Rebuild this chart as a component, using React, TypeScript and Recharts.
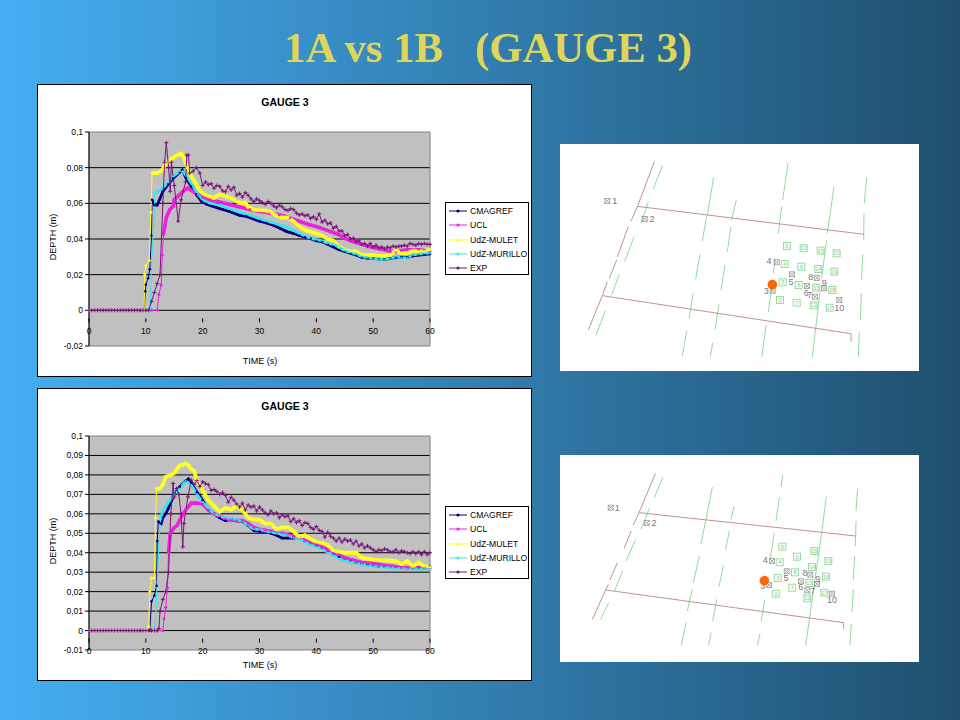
import { CartesianGrid, Legend, Line, LineChart, ReferenceArea, XAxis, YAxis } from "recharts"

type Pt = number[]

// ---- hydrograph values: [time, depth]
const cmagref1A: Pt[] = [[0,0],[5,0],[9.7,0],[9.9,.0107],[10,.0144],[10.4,.018],[10.7,.023],[11,.042],[11.1,.062],[11.5,.059],[12,.059],[12.4,.062],[13,.0667],[13.9,.0705],[14.8,.074],[16,.0776],[16.4,.0787],[17.1,.074],[18,.0695],[18.9,.065],[19.8,.061],[20.6,.0596],[21.8,.0583],[23,.057],[24.7,.0555],[26.5,.0533],[27.7,.0527],[28.9,.0512],[30,.05],[31.2,.049],[32.4,.0477],[33.6,.046],[34.7,.0443],[35.9,.0432],[37,.042],[38,.041],[39,.0402],[40,.039],[41,.0385],[42,.037],[43,.0355],[44,.034],[45,.033],[46,.032],[47,.031],[48,.0297],[49,.0293],[50,.029],[51,.0288],[52,.0286],[53,.029],[54,.0297],[55,.0298],[56,.0297],[57,.0305],[58,.031],[59,.0312],[60,.0316]]
const ucl1A: Pt[] = [[0,0],[5,0],[9,0],[10,0],[11,0],[12,0],[12.3,.009],[12.7,.0144],[12.9,.031],[13.1,.0424],[13.6,.052],[14.2,.0564],[14.8,.0583],[15,.062],[16,.065],[17,.068],[17.4,.0686],[18.3,.0667],[19.2,.065],[20,.0634],[21.2,.062],[23,.0607],[24.7,.0593],[26.5,.058],[28.3,.0565],[30,.0555],[31.8,.0546],[33.5,.0536],[35.3,.0518],[37,.05],[38.8,.048],[40,.047],[41.8,.045],[44,.0424],[45,.0405],[46,.039],[47,.038],[48,.037],[49,.036],[50,.0353],[51,.0346],[52,.034],[53,.033],[54,.033],[55,.0335],[56,.034],[57,.034],[58,.034],[59,.0335],[60,.033]]
const mulet1A: Pt[] = [[0,0],[5,0],[9.7,0],[9.8,.02],[10,.025],[10.6,.028],[10.9,.055],[11.1,.077],[12,.077],[12.7,.078],[13.5,.082],[14.5,.085],[15.5,.087],[16.2,.088],[16.8,.085],[17.3,.08],[18,.075],[18.8,.071],[19.5,.067],[20.3,.065],[21,.064],[22,.063],[23,.065],[24,.064],[25,.063],[26,.061],[27,.06],[27.5,.0605],[28,.058],[29,.0565],[30,.056],[31,.056],[32,.055],[33,.053],[34,.052],[35,.052],[36,.05],[37,.047],[38,.045],[39,.044],[40,.043],[41,.042],[42,.04],[43,.039],[44,.0355],[45,.034],[46,.033],[47,.033],[48,.031],[49,.031],[50,.031],[51,.0305],[52,.0305],[53,.031],[54,.0335],[55,.032],[56,.032],[57,.0335],[58,.033],[59,.033],[60,.034]]
const murillo1A: Pt[] = [[0,0],[5,0],[10.8,0],[11,.0275],[11.3,.0424],[11.6,.0658],[12.4,.067],[13.6,.0705],[14.8,.075],[16,.078],[16.5,.078],[17.4,.074],[18.3,.0695],[19.2,.065],[20,.062],[21.2,.06],[23,.0589],[24.7,.057],[26.5,.055],[28.3,.0533],[30,.0514],[31.8,.0495],[33.5,.048],[35.3,.046],[37,.043],[38.8,.0406],[40,.0396],[41,.039],[42,.0375],[43,.037],[44,.0355],[45,.0335],[46,.0325],[47,.0315],[48,.03],[49,.0295],[50,.029],[51,.0287],[52,.0285],[53,.029],[54,.03],[55,.0295],[56,.0295],[57,.031],[58,.0315],[59,.032],[60,.032]]
const exp1A: Pt[] = [[0,0],[.5,0],[1,0],[1.5,0],[2,0],[2.5,0],[3,0],[3.5,0],[4,0],[4.5,0],[5,0],[5.5,0],[6,0],[6.5,0],[7,0],[7.5,0],[8,0],[8.5,0],[9,0],[9.5,0],[10,0],[10.5,0],[11,.005],[11.5,.01],[12,.015],[12.5,.02],[13,.06],[13.3,.083],[13.6,.094],[14,.08],[14.3,.0667],[14.5,.083],[15,.07],[15.7,.05],[16.2,.062],[17,.072],[17.2,.087],[17.5,.087],[17.7,.077],[18.3,.078],[18.9,.08],[19.5,.077],[20,.07],[20.5,.072],[21,.0705],[21.5,.071],[22,.0685],[22.5,.07],[23,.0695],[23.5,.067],[24,.0665],[24.5,.0695],[25,.0675],[25.5,.069],[26,.0645],[26.5,.0655],[27,.0635],[27.5,.066],[28,.0645],[28.5,.0625],[29,.061],[29.5,.0625],[30,.0615],[30.5,.0605],[31,.0595],[31.5,.061],[32,.06],[32.5,.0585],[33,.0575],[33.5,.059],[34,.058],[34.5,.0565],[35,.056],[35.5,.057],[36,.0565],[36.5,.0545],[37,.0535],[37.5,.054],[38,.053],[38.5,.0535],[39,.0515],[39.5,.0525],[40,.051],[40.5,.054],[41,.0495],[41.5,.0505],[42,.0485],[42.5,.049],[43,.046],[43.5,.047],[44,.0445],[44.5,.0445],[45,.042],[45.5,.0425],[46,.04],[46.5,.0405],[47,.0385],[47.5,.039],[48,.037],[48.5,.0375],[49,.036],[49.5,.0375],[50,.0355],[50.5,.0365],[51,.035],[51.5,.0355],[52,.0345],[52.5,.0355],[53,.035],[53.5,.036],[54,.0355],[54.5,.036],[55,.036],[55.5,.0365],[56,.036],[56.5,.0375],[57,.037],[57.5,.0365],[58,.0375],[58.5,.037],[59,.0375],[59.5,.037],[60,.037]]

const cmagref1B: Pt[] = [[0,0],[5,0],[10.7,0],[11,.015],[11.5,.018],[11.9,.023],[12,.046],[12.2,.056],[12.7,.055],[13,.058],[13.5,.06],[14,.063],[15,.07],[16,.074],[17,.077],[17.5,.078],[18,.076],[19,.071],[20,.067],[21,.062],[22,.06],[23,.058],[24,.0565],[25,.057],[26,.0565],[27,.056],[28,.054],[29,.0515],[30,.051],[31,.051],[32,.05],[33,.049],[34,.0475],[35,.0475],[36,.0475],[37,.0475],[38,.046],[39,.045],[40,.0438],[41,.0425],[42,.041],[43,.0395],[44,.038],[45,.037],[46,.036],[47,.035],[48,.0345],[49,.034],[50,.0335],[51,.033],[52,.033],[53,.0327],[54,.0325],[55,.0322],[56,.032],[57,.032],[58,.0322],[59,.0325],[60,.033]]
const ucl1B: Pt[] = [[0,0],[5,0],[9,0],[10,0],[11,0],[12,0],[13,0],[13.2,.006],[13.5,.012],[13.8,.022],[14,.04],[14.3,.05],[15,.053],[15.5,.054],[16,.057],[17,.062],[18,.0655],[19,.0655],[20,.065],[21,.062],[22,.06],[23,.059],[24,.0575],[25,.057],[26,.0565],[27,.0565],[28,.055],[29,.053],[30,.052],[31,.0515],[32,.051],[33,.05],[34,.05],[35,.049],[36,.0485],[37,.048],[38,.046],[39,.045],[40,.0443],[41,.043],[42,.0415],[43,.04],[44,.039],[45,.0374],[46,.0365],[47,.0357],[48,.035],[49,.0347],[50,.0344],[51,.034],[52,.0335],[53,.0332],[54,.0328],[55,.0325],[56,.0323],[57,.0322],[58,.0322],[59,.032],[60,.032]]
const mulet1B: Pt[] = [[0,0],[5,0],[10,0],[10.5,.002],[10.7,.02],[11,.027],[11.5,.027],[11.7,.058],[11.9,.073],[12.5,.073],[13,.075],[13.5,.079],[14.5,.08],[15,.081],[15.5,.083],[16,.085],[16.5,.085],[17,.086],[17.5,.085],[18,.083],[18.5,.082],[19,.077],[20,.072],[21,.067],[22,.064],[23,.061],[24,.063],[25,.062],[26,.064],[27,.062],[28,.058],[29,.057],[30,.057],[31,.055],[32,.055],[33,.052],[34,.053],[35,.053],[36,.051],[37,.048],[38,.049],[39,.047],[40,.0455],[41,.045],[42,.044],[43,.041],[44,.0405],[45,.04],[46,.04],[47,.04],[48,.0375],[49,.037],[50,.0365],[51,.0362],[52,.036],[53,.036],[54,.0357],[55,.034],[56,.0357],[57,.033],[58,.035],[59,.033],[60,.0327]]
const murillo1B: Pt[] = [[0,0],[5,0],[11.5,0],[11.7,.005],[12,.025],[12.3,.045],[12.6,.057],[13,.062],[14,.066],[15,.07],[16,.073],[17,.077],[18,.075],[19,.07],[20,.066],[21,.063],[22,.06],[23,.059],[24,.058],[25,.0575],[26,.057],[27,.056],[28,.054],[29,.052],[30,.052],[31,.051],[32,.0505],[33,.05],[34,.0495],[35,.049],[36,.0475],[37,.047],[38,.0455],[39,.044],[40,.043],[41,.0418],[42,.0402],[43,.0386],[44,.037],[45,.036],[46,.0352],[47,.0347],[48,.034],[49,.0335],[50,.0332],[51,.0328],[52,.0325],[53,.0323],[54,.032],[55,.0319],[56,.0318],[57,.0317],[58,.0316],[59,.0316],[60,.0315]]
const exp1B: Pt[] = [[0,0],[.5,0],[1,0],[1.5,0],[2,0],[2.5,0],[3,0],[3.5,0],[4,0],[4.5,0],[5,0],[5.5,0],[6,0],[6.5,0],[7,0],[7.5,0],[8,0],[8.5,0],[9,0],[9.5,0],[10,0],[10.5,0],[11,0],[11.5,0],[12,0],[12.3,.001],[12.5,.01],[13,.016],[13.5,.02],[14,.03],[14.4,.06],[14.8,.0756],[15,.0687],[15.4,.073],[15.8,.07],[16.2,.06],[16.5,.043],[16.7,.055],[17.4,.0687],[18,.0773],[18.5,.075],[19,.077],[19.5,.074],[20,.0765],[20.5,.0755],[21,.075],[21.5,.072],[22,.0725],[22.5,.0715],[23,.07],[23.5,.071],[24,.0695],[24.5,.066],[25,.0685],[25.5,.067],[26,.065],[26.5,.0635],[27,.0655],[27.5,.062],[28,.0645],[28.5,.0635],[29,.064],[29.5,.0615],[30,.0635],[30.5,.062],[31,.0605],[31.5,.0595],[32,.0615],[32.5,.06],[33,.0605],[33.5,.058],[34,.0595],[34.5,.0585],[35,.059],[35.5,.056],[36,.0575],[36.5,.0555],[37,.0565],[37.5,.054],[38,.0555],[38.5,.055],[39,.053],[39.5,.052],[40,.0535],[40.5,.0515],[41,.051],[41.5,.048],[42,.0505],[42.5,.0485],[43,.0475],[43.5,.046],[44,.0475],[44.5,.0455],[45,.047],[45.5,.046],[46,.0465],[46.5,.0445],[47,.046],[47.5,.0435],[48,.0445],[48.5,.0425],[49,.0435],[49.5,.0425],[50,.0415],[50.5,.0405],[51,.0415],[51.5,.041],[52,.042],[52.5,.0415],[53,.0405],[53.5,.0405],[54,.0415],[54.5,.04],[55,.041],[55.5,.0405],[56,.04],[56.5,.0395],[57,.0405],[57.5,.0395],[58,.0405],[58.5,.039],[59,.0405],[59.5,.039],[60,.04]]

const seriesNames = ["CMAGREF", "UCL", "UdZ-MULET", "UdZ-MURILLO", "EXP"]
const seriesColors = ["#000080", "#ee20dd", "#ffff20", "#30e8f0", "#7a1478"]
const seriesWidths = [2.8, 3.6, 3.8, 2.6]
const seriesDots = [1.3, 1.5, 1.5, 0.9]

const timeTicks = [0, 10, 20, 30, 40, 50, 60]
const depthTicks1A = [-0.02, 0, 0.02, 0.04, 0.06, 0.08, 0.1]
const depthTicks1B = [-0.01, 0, 0.01, 0.02, 0.03, 0.04, 0.05, 0.06, 0.07, 0.08, 0.09, 0.1]
const runs1A = [cmagref1A, ucl1A, mulet1A, murillo1A, exp1A]
const runs1B = [cmagref1B, ucl1B, mulet1B, murillo1B, exp1B]
const bandFrom1A = [11.1, 13.1, 11.1, 11.6]
const bandFrom1B = [12.2, 14, 11.9, 12.6]

// ---- experiment layout sketches, in units of a third of a pixel
const walls1A = [[[283,50],[232,185],[213,228]],[[205,245],[172,335]],[[170,345],[148,400]],[[142,410],[127,452],[85,555]],[[232,184],[912,268]],[[127,452],[873,566],[873,590]]]
const dashes1A = [[[307,62],[280,132]],[[265,170],[243,235]],[[222,275],[194,350]],[[178,388],[155,450]],[[136,497],[108,570]],[[461,97],[442,210]],[[440,215],[427,288]],[[420,328],[407,403]],[[400,445],[387,520]],[[380,558],[367,633]],[[529,165],[515,225]],[[513,245],[502,320]],[[495,360],[483,435]],[[477,478],[465,553]],[[458,593],[451,635]],[[684,55],[668,165]],[[665,185],[655,265]],[[645,340],[640,385]],[[635,430],[625,500]],[[618,540],[606,635]],[[822,125],[802,265]],[[800,285],[785,400]],[[780,440],[757,635]],[[920,98],[913,175]],[[912,205],[911,285]],[[908,328],[905,405]],[[904,445],[901,525]],[[898,563],[895,635]]]
const blocks1A: [number, number, string][] = [[681,303,"5"],[731,310,"10"],[782,317,"15"],[830,325,"20"],[674,357,"4"],[724,365,"9"],[775,372,"14"],[823,380,"19"],[668,412,"3"],[716,420,"8"],[769,428,"13"],[817,435,"18"],[660,465,"2"],[710,473,"7"],[761,481,"12"],[809,488,"17"]]
const gauges1A: [number, number, string, number, number][] = [[142,168,"1",22,6],[254,222,"2",22,6],[650,352,"4",-23,2],[696,388,"5",-3,30],[741,423,"6",-2,28],[770,399,"8",-18,2],[792,430,"9",1,-10],[765,455,"7",-16,2],[838,465,"10",0,30],[638,437,"3",-19,6]]
const gaugeDot1A = [[637, 419]]

const walls1B = [[[286,53],[237,170],[220,207]],[[214,225],[192,278]],[[172,320],[150,372]],[[145,385],[137,402],[97,490]],[[237,170],[887,240]],[[137,402],[851,500],[851,520]]]
const dashes1B = [[[309,63],[283,125]],[[268,158],[243,220]],[[227,250],[198,315]],[[188,345],[163,405]],[[146,440],[122,490]],[[457,93],[437,195],[423,263]],[[418,300],[400,380]],[[397,398],[382,465]],[[378,500],[364,568]],[[522,150],[513,190]],[[508,225],[497,280]],[[490,327],[477,392]],[[470,430],[458,495]],[[453,530],[446,568]],[[668,57],[663,93]],[[658,125],[648,195]],[[643,230],[630,310]],[[615,430],[603,497]],[[600,533],[592,568]],[[799,122],[785,230],[737,568]],[[893,97],[888,165]],[[888,195],[886,270]],[[884,300],[880,370]],[[880,400],[876,468]],[[874,503],[870,568]]]
const blocks1B: [number, number, string][] = [[667,272,"5"],[711,302,"9"],[763,285,"15"],[659,319,"4"],[756,333,"14"],[805,315,"19"],[705,349,"8"],[653,366,"3"],[748,381,"13"],[798,362,"18"],[697,395,"7"],[647,413,"2"],[742,427,"12"],[793,410,"17"]]
const gauges1B: [number, number, string, number, number][] = [[152,155,"1",20,6],[260,201,"2",22,6],[636,315,"4",-20,2],[680,346,"5",-2,26],[723,376,"6",-1,24],[751,356,"8",-16,2],[771,384,"9",2,-10],[742,403,"7",16,8],[816,413,"10",0,26],[627,387,"3",-19,8]]
const gaugeDot1B = [[613, 374]]

const SANS = "'Liberation Sans', Arial, sans-serif"
const toPoints = (pts: Pt[]) => pts.map(([t, v]) => ({ t, v }))
const fmtDepth = (v: number) => String(+v.toFixed(2)).replace(".", ",")

// the EXP series carries small crosses in the Excel original
const PlusDot = ({ cx, cy, index }: any) => (
  <path key={index} d={`M${cx - 2} ${cy}H${cx + 2}M${cx} ${cy - 2}V${cy + 2}`} stroke={seriesColors[4]} strokeWidth={1} fill="none" />
)

function HydroChart({ runs, bandFrom, depthTicks, top }: { runs: Pt[][]; bandFrom: number[]; depthTicks: number[]; top: number }) {
  const yMin = depthTicks[0]
  const plotH = 214
  const zeroShift = (-yMin / (0.1 - yMin)) * plotH

  const ZeroTick = ({ x, y, payload }: any) => (
    <g transform={`translate(${x},${y - zeroShift})`}>
      <line y2={4} stroke="#000" />
      <text y={15.5} textAnchor="middle" fontSize={8.5} fontFamily={SANS} fill="#000">{payload.value}</text>
    </g>
  )

  const lines = runs.flatMap((run, i) => {
    if (i === 4) {
      return [
        <Line key={seriesNames[i]} data={toPoints(run)} dataKey="v" name={seriesNames[i]} stroke={seriesColors[i]}
          strokeWidth={1} dot={<PlusDot />} isAnimationActive={false} />,
      ]
    }
    return [
      <Line key={seriesNames[i]} data={toPoints(run)} dataKey="v" name={seriesNames[i]} stroke={seriesColors[i]}
        strokeWidth={1} dot={{ r: seriesDots[i], fill: seriesColors[i], stroke: "none" }} isAnimationActive={false} />,
      <Line key={seriesNames[i] + "-band"} data={toPoints(run.filter((p) => p[0] >= bandFrom[i]))} dataKey="v"
        stroke={seriesColors[i]} strokeWidth={seriesWidths[i]} dot={false} legendType="none" isAnimationActive={false} />,
    ]
  })

  return (
    <div style={{ position: "absolute", left: 37, top, width: 495, height: 293, background: "#fff", outline: "1px solid #000", outlineOffset: -1 }}>
      <LineChart width={495} height={293} margin={{ top: 48, right: 102, bottom: 30, left: 0 }}>
        <CartesianGrid vertical={false} fill="#c0c0c0" stroke="#000" horizontalValues={depthTicks.slice(1, -1)} />
        <ReferenceArea x1={0} x2={60} y1={yMin} y2={0.1} fill="none" stroke="#808080" ifOverflow="visible" />
        <XAxis dataKey="t" type="number" domain={[0, 60]} ticks={timeTicks} interval={0} height={1}
          axisLine={false} tickLine={false} tick={<ZeroTick />} allowDuplicatedCategory={false} />
        <YAxis width={52} type="number" domain={[yMin, 0.1]} ticks={depthTicks} interval={0} tickFormatter={fmtDepth}
          tick={{ fontSize: 8.5, fontFamily: SANS, fill: "#000" }} stroke="#000" tickSize={4} />
        {lines}
        <Legend layout="vertical" align="center" verticalAlign="middle" itemSorter={null}
          wrapperStyle={{ position: "absolute", left: 408, top: 118, width: 84, height: 73 }}
          content={({ payload }: any) => (
            <div style={{ boxSizing: "border-box", width: 84, height: 73, border: "1px solid #000", background: "#fff", padding: "1px 0 0 3px" }}>
              {(payload || []).filter((e: any) => e.type !== "none").map((e: any) => (
                <div key={e.value} style={{ display: "flex", alignItems: "center", height: 14.25, fontFamily: SANS, fontSize: 8.6, color: "#000", whiteSpace: "nowrap" }}>
                  <svg width={21} height={6} style={{ flex: "none" }}>
                    <line x1={0} x2={18} y1={3} y2={3} stroke={e.color} strokeWidth={1} />
                    <circle cx={9} cy={3} r={1.6} fill={e.color} />
                  </svg>
                  {e.value}
                </div>
              ))}
            </div>
          )} />
        <text x={248} y={21.5} textAnchor="middle" fontSize={10.5} fontWeight="bold" fontFamily={SANS} fill="#000">GAUGE 3</text>
        <text x={223} y={280} textAnchor="middle" fontSize={9} fontFamily={SANS} fill="#000">TIME (s)</text>
        <text transform="translate(18.5,153) rotate(-90)" textAnchor="middle" fontSize={9} fontFamily={SANS} fill="#000">DEPTH (m)</text>
      </LineChart>
    </div>
  )
}

const BlockMark = ({ cx, cy, payload }: any) => (
  <g key={`${payload.x}-${payload.y}`}>
    <rect x={cx - 3.5} y={cy - 3.5} width={7} height={7} fill="#f4fcf4" stroke="#86d48e" strokeWidth={0.8} />
    <text x={cx} y={cy + 2} textAnchor="middle" fontSize={5.5} fontFamily={SANS} fill="#86d48e">{payload.label}</text>
  </g>
)

const GaugeMark = ({ cx, cy, payload }: any) => (
  <g key={`${payload.x}-${payload.y}`}>
    <rect x={cx - 2.5} y={cy - 2.5} width={5} height={5} fill="none" stroke="#8a8a8a" strokeWidth={0.7} />
    <path d={`M${cx - 2.5} ${cy - 2.5}L${cx + 2.5} ${cy + 2.5}M${cx + 2.5} ${cy - 2.5}L${cx - 2.5} ${cy + 2.5}`} stroke="#8a8a8a" strokeWidth={0.7} />
    <text x={cx + payload.dx / 3} y={cy + payload.dy / 3 + 1} textAnchor="middle" fontSize={9} fontFamily={SANS} fill="#777">{payload.label}</text>
  </g>
)

// polylines become one point list with an empty y between the pieces
const withGaps = (polys: number[][][]) =>
  polys.flatMap((poly) => [...poly.map(([x, y]) => ({ x, y })), { x: poly[poly.length - 1][0], y: null }])

function LayoutMap({ top, height, walls, dashes, blocks, gauges, dot }: any) {
  const blockData = blocks.map(([x, y, label]: any) => ({ x, y, label }))
  const gaugeData = gauges.map(([x, y, label, dx, dy]: any) => ({ x, y, label, dx, dy }))
  const dotData = dot.map(([x, y]: number[]) => ({ x, y }))
  return (
    <div style={{ position: "absolute", left: 560, top: top - 1, width: 359, height: height + 1, background: "#fff" }}>
      <div style={{ position: "absolute", top: 1 }}>
        <LineChart width={360} height={height} margin={{ top: 0, right: 0, bottom: 0, left: 0 }}>
          <XAxis hide dataKey="x" type="number" domain={[0, 1080]} allowDuplicatedCategory={false} />
          <YAxis hide dataKey="y" type="number" reversed domain={[0, height * 3]} />
          <Line data={withGaps(dashes)} dataKey="y" stroke="#8fdc9c" strokeWidth={1} dot={false} connectNulls={false} isAnimationActive={false} />
          <Line data={blockData} dataKey="y" stroke="none" dot={<BlockMark />} isAnimationActive={false} />
          <Line data={withGaps(walls)} dataKey="y" stroke="#c09494" strokeWidth={1} dot={false} connectNulls={false} isAnimationActive={false} />
          <Line data={gaugeData} dataKey="y" stroke="none" dot={<GaugeMark />} isAnimationActive={false} />
          <Line data={dotData} dataKey="y" stroke="none" dot={{ r: 4.8, fill: "#f86808", stroke: "none" }} isAnimationActive={false} />
        </LineChart>
      </div>
    </div>
  )
}

export default function App() {
  return (
    <div style={{ position: "absolute", left: 0, top: 0, width: 960, height: 720, overflow: "hidden", background: "linear-gradient(90deg, #45aef2 0%, #1f4f6e 100%)" }}>
      <div style={{ position: "absolute", left: 0, top: 20, width: 976, textAlign: "center", fontFamily: "'Liberation Serif', serif", fontWeight: "bold", fontSize: 42.7, lineHeight: "56px", color: "#ded65c", whiteSpace: "pre" }}>
        {"1A vs 1B   (GAUGE 3)"}
      </div>
      <HydroChart runs={runs1A} bandFrom={bandFrom1A} depthTicks={depthTicks1A} top={84} />
      <HydroChart runs={runs1B} bandFrom={bandFrom1B} depthTicks={depthTicks1B} top={388} />
      <LayoutMap top={145} height={226} walls={walls1A} dashes={dashes1A} blocks={blocks1A} gauges={gauges1A} dot={gaugeDot1A} />
      <LayoutMap top={456} height={206} walls={walls1B} dashes={dashes1B} blocks={blocks1B} gauges={gauges1B} dot={gaugeDot1B} />
    </div>
  )
}
